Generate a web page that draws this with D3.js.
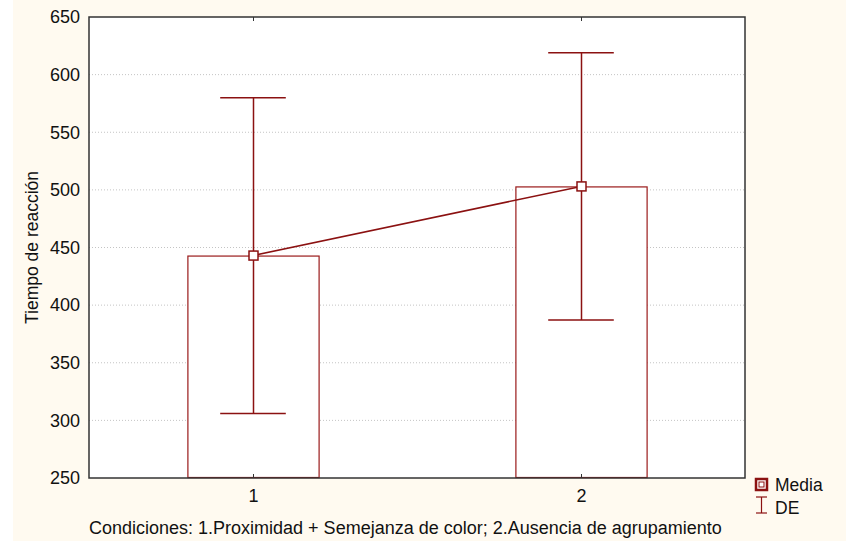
<!DOCTYPE html>
<html>
<head>
<meta charset="utf-8">
<script src="https://cdn.jsdelivr.net/npm/d3@7"></script>
<style>
  html, body { margin: 0; padding: 0; background: #ffffff; }
  svg { display: block; font-family: Arial, "Liberation Sans", sans-serif; }
</style>
</head>
<body>
<svg id="chart" width="846" height="542"></svg>
<script>
// Reaction times by condition: mean and standard deviation
const categories = [1, 2];
const means = [443, 503];
const sds = [137, 116];
const yTicks = [250, 300, 350, 400, 450, 500, 550, 600, 650];
const xTickLabels = ["1", "2"];
const yTitle = "Tiempo de reacción";
const xTitle = "Condiciones: 1.Proximidad + Semejanza de color; 2.Ausencia de agrupamiento";
const legendLabels = ["Media", "DE"];

const red = "#8b1111";
const font = "Arial, 'Liberation Sans', sans-serif";
const svg = d3.select("#chart");
const W = 846;
const m = { left: 89, right: 745, top: 17, bottom: 478 };

// Panel background
svg.append("rect").attr("x", 13).attr("y", 0).attr("width", W - 13).attr("height", 541)
  .attr("fill", "#fffaf0");
svg.append("rect").attr("x", m.left).attr("y", m.top)
  .attr("width", m.right - m.left).attr("height", m.bottom - m.top).attr("fill", "#ffffff");

const x = d3.scaleLinear().domain([0.5, 2.5]).range([m.left, m.right]);
const y = d3.scaleLinear().domain([250, 650]).range([m.bottom, m.top]);
const barHalf = 0.2;   // half bar width in category units
const capHalf = 0.1;   // half cap width in category units

// Dotted gridlines
svg.append("g").selectAll("line").data(yTicks.slice(1, -1)).join("line")
  .attr("x1", m.left).attr("x2", m.right)
  .attr("y1", d => y(d)).attr("y2", d => y(d))
  .attr("stroke", "#c4c4c4").attr("stroke-width", 1).attr("stroke-dasharray", "1,2");

// Y axis labels
const yAxis = d3.axisLeft(y).tickValues(yTicks).tickSize(0).tickPadding(9);
svg.append("g").attr("transform", `translate(${m.left},0)`).call(yAxis)
  .call(g => g.select(".domain").remove())
  .call(g => g.selectAll("text").attr("font-size", 18).attr("fill", "#111")
    .attr("font-family", font));

// X axis labels
const xAxis = d3.axisBottom(x).tickValues(categories).tickFormat((d, i) => xTickLabels[i])
  .tickSize(0).tickPadding(11);
svg.append("g").attr("transform", `translate(0,${m.bottom})`).call(xAxis)
  .call(g => g.select(".domain").remove())
  .call(g => g.selectAll("text").attr("font-size", 18).attr("fill", "#111")
    .attr("font-family", font));

// Bars
svg.append("g").selectAll("rect").data(categories).join("rect")
  .attr("x", (d) => x(d - barHalf) + 0.5)
  .attr("width", (d) => x(d + barHalf) - x(d - barHalf))
  .attr("y", (d, i) => y(means[i]) + 0.5)
  .attr("height", (d, i) => y(250) - y(means[i]) - 1)
  .attr("fill", "#ffffff").attr("stroke", "#9a1a1a").attr("stroke-width", 1.2);

// Error bars (mean ± SD)
const eb = svg.append("g").attr("stroke", red).attr("stroke-width", 1.5);
categories.forEach((c, i) => {
  const cx = Math.round(x(c)) + 0.5;
  eb.append("line").attr("x1", cx).attr("x2", cx)
    .attr("y1", y(means[i] + sds[i])).attr("y2", y(means[i] - sds[i]));
  [means[i] + sds[i], means[i] - sds[i]].forEach(v => {
    eb.append("line").attr("x1", x(c - capHalf)).attr("x2", x(c + capHalf))
      .attr("y1", y(v)).attr("y2", y(v));
  });
});

// Line connecting the means
svg.append("path")
  .datum(categories.map((c, i) => [x(c), y(means[i])]))
  .attr("d", d3.line())
  .attr("fill", "none").attr("stroke", red).attr("stroke-width", 1.5);

// Mean markers
svg.append("g").selectAll("rect").data(categories).join("rect")
  .attr("x", d => Math.round(x(d)) + 0.5 - 4.5)
  .attr("y", (d, i) => y(means[i]) - 4.5)
  .attr("width", 9).attr("height", 9)
  .attr("fill", "#ffffff").attr("stroke", red).attr("stroke-width", 1.5);

// Plot frame
svg.append("rect").attr("x", m.left).attr("y", m.top)
  .attr("width", m.right - m.left).attr("height", m.bottom - m.top)
  .attr("fill", "none").attr("stroke", "#333").attr("stroke-width", 1.5);

// Small category ticks inside the frame (top and bottom)
const tk = svg.append("g").attr("stroke", "#333").attr("stroke-width", 1);
categories.forEach(c => {
  const cx = Math.round(x(c)) + 0.5;
  tk.append("line").attr("x1", cx).attr("x2", cx).attr("y1", m.bottom).attr("y2", m.bottom - 4);
  tk.append("line").attr("x1", cx).attr("x2", cx).attr("y1", m.top).attr("y2", m.top + 4);
});

// Axis titles
svg.append("text")
  .attr("transform", `translate(38,${(m.top + m.bottom) / 2}) rotate(-90)`)
  .attr("text-anchor", "middle").attr("font-size", 17.5).attr("fill", "#111")
  .text(yTitle);
svg.append("text").attr("x", m.left).attr("y", 534)
  .attr("font-size", 18).attr("fill", "#111").text(xTitle);

// Legend
const lg = svg.append("g");
lg.append("rect").attr("x", 756).attr("y", 479).attr("width", 11).attr("height", 11)
  .attr("fill", "#ffffff").attr("stroke", red).attr("stroke-width", 2.5);
lg.append("rect").attr("x", 759).attr("y", 482).attr("width", 5).attr("height", 5)
  .attr("fill", "none").attr("stroke", red).attr("stroke-width", 1);
lg.append("line").attr("x1", 761.5).attr("x2", 761.5).attr("y1", 497).attr("y2", 513)
  .attr("stroke", red).attr("stroke-width", 1.2);
lg.append("line").attr("x1", 756).attr("x2", 767).attr("y1", 497).attr("y2", 497)
  .attr("stroke", red).attr("stroke-width", 1.2);
lg.append("line").attr("x1", 756).attr("x2", 767).attr("y1", 513).attr("y2", 513)
  .attr("stroke", red).attr("stroke-width", 1.2);
lg.append("text").attr("x", 775).attr("y", 491).attr("font-size", 17.5).attr("fill", "#111").text(legendLabels[0]);
lg.append("text").attr("x", 775).attr("y", 514).attr("font-size", 17.5).attr("fill", "#111").text(legendLabels[1]);
</script>
</body>
</html>
